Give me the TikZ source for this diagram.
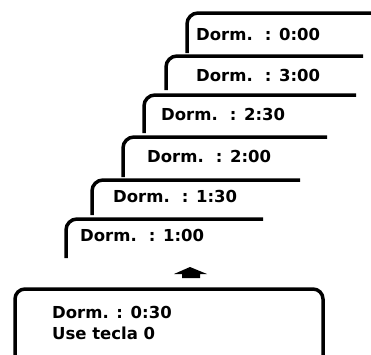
\documentclass[tikz,border=0pt]{standalone}
\usepackage{fontspec}
\setmainfont{DejaVu Sans}
\begin{document}
\begin{tikzpicture}[x=1pt,y=-1pt,
 tab/.style={line width=3.5pt, rounded corners=11pt},
 lbl/.style={anchor=base west, inner sep=0pt, font=\bfseries\fontsize{16.5}{20}\selectfont}]
\useasboundingbox (0,0) rectangle (371,354);
% stacked screens (top to bottom)
\draw[tab] (187,53) -- (187,13) -- (375,13);
\node[lbl] (t1) at (196,40) {Dorm.\hspace{12pt}: 0:00};
\draw[tab] (166,90) -- (166,56) -- (363,56);
\node[lbl] (t2) at (196,81) {Dorm.\hspace{12pt}: 3:00};
\draw[tab] (144,133) -- (144,95) -- (356,95);
\node[lbl] (t3) at (161,120) {Dorm.\hspace{12pt}: 2:30};
\draw[tab] (123,177) -- (123,137) -- (327,137);
\node[lbl] (t4) at (147,162) {Dorm.\hspace{12pt}: 2:00};
\draw[tab] (92,215) -- (92,180) -- (300,180);
\node[lbl] (t5) at (113,202) {Dorm.\hspace{12pt}: 1:30};
\draw[tab] (66,258) -- (66,219) -- (263,219);
\node[lbl] (t6) at (80,241) {Dorm.\hspace{12pt}: 1:00};
% up arrow
\fill (190,267) -- (207,274) -- (200,274) -- (200,278) -- (182,278) -- (182,274) -- (174,274) -- cycle;
\coordinate (arr) at (190,272);
% bottom screen
\draw[line width=3.5pt, rounded corners=10pt] (15,360) -- (15,289) -- (323,289) -- (323,360);
\node[lbl] (b1) at (52,318) {Dorm. : 0:30};
\node[lbl] (b2) at (52,339) {Use tecla 0};
\end{tikzpicture}
\end{document}
